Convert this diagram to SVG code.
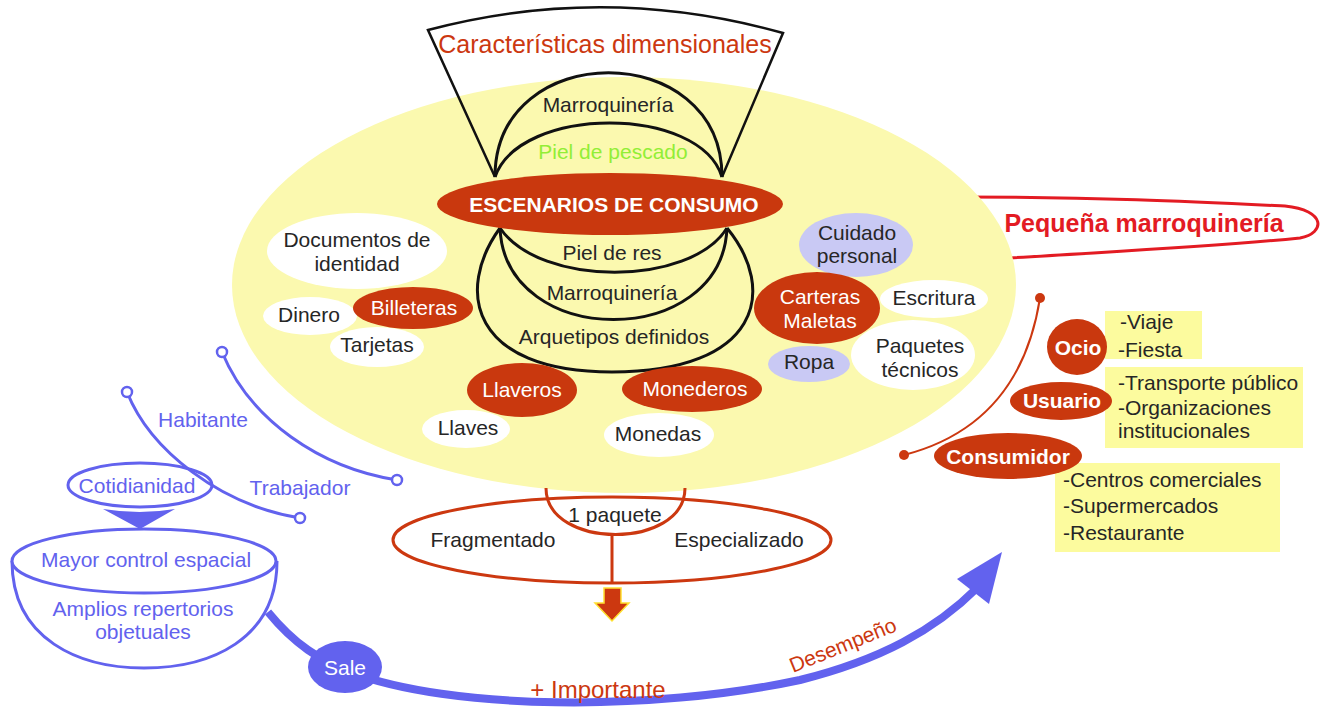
<svg xmlns="http://www.w3.org/2000/svg" width="1325" height="710" viewBox="0 0 1325 710">
<style>
text{font-family:"Liberation Sans",Arial,sans-serif;font-size:21px;text-anchor:middle;fill:#262626}
.w{fill:#fff}
.b{font-weight:bold}
.bl{fill:#6262EE}
.st{fill:#262626;text-anchor:start}
.or{fill:#CC3810}
.wn{fill:#fff}
.on{fill:#C9380E}
.ln{fill:#C9C9F4}
.box{fill:#FCFB9E}
.blk{fill:none;stroke:#111;stroke-width:3}
.bs{fill:none;stroke:#6262EE;stroke-width:3}
.dot{fill:#fff;stroke:#6262EE;stroke-width:2.5}
</style>
<rect width="1325" height="710" fill="#fff"/>
<g id="pequena">
<path d="M960,197 C1100,197 1200,202 1285,206 C1326,210 1326,233 1300,238 C1200,248 1100,252 1010,258" fill="none" stroke="#E31B23" stroke-width="3"/>
</g>
<g id="escenario-fondo">
<ellipse cx="624" cy="285" rx="392" ry="208" fill="#FBF9AF"/>
</g>
<g id="caracteristicas">
<path d="M495,177 L428,30 Q605,-17 783,33 L722,177" fill="none" stroke="#111" stroke-width="2.5"/>
<text x="605" y="53" style="font-size:25px" class="or">Características dimensionales</text>
</g>
<g id="arcos-superiores">
<path class="blk" d="M495,177 C495,38 722,38 722,177"/>
<path class="blk" d="M495,177 C520,105 700,105 722,177"/>
<text x="608" y="112">Marroquinería</text>
<text x="613" y="159" style="fill:#92EE36">Piel de pescado</text>
</g>
<g id="arcos-inferiores">
<path class="blk" d="M500,228 C540,287 690,287 727,228"/>
<path class="blk" d="M500,228 C505,350 722,350 727,228"/>
<path class="blk" d="M500,228 C455,290 470,372 612,372 C760,372 778,290 727,228"/>
<text x="612" y="260">Piel de res</text>
<text x="612" y="300">Marroquinería</text>
<text x="614" y="344">Arquetipos definidos</text>
</g>
<g id="escenarios">
<ellipse cx="610" cy="204" rx="173" ry="31" class="on"/>
<text x="614" y="212" class="w b">ESCENARIOS DE CONSUMO</text>
</g>
<g id="documentos"><ellipse cx="357" cy="251" rx="90" ry="38" class="wn"/><text x="357" y="247">Documentos de</text><text x="357" y="271">identidad</text></g>
<g id="dinero"><ellipse cx="310" cy="316" rx="47" ry="19" class="wn"/><text x="309" y="322">Dinero</text></g>
<g id="tarjetas"><ellipse cx="377" cy="347" rx="47" ry="20" class="wn"/><text x="377" y="352">Tarjetas</text></g>
<g id="billeteras"><ellipse cx="413" cy="308" rx="60" ry="21" class="on"/><text x="414" y="315" class="w">Billeteras</text></g>
<g id="llaves"><ellipse cx="466" cy="429" rx="44" ry="19" class="wn"/><text x="468" y="435">Llaves</text></g>
<g id="llaveros"><ellipse cx="522" cy="390" rx="55" ry="27" class="on"/><text x="522" y="397" class="w">Llaveros</text></g>
<g id="monedas"><ellipse cx="659" cy="435" rx="55" ry="22" class="wn"/><text x="658" y="441">Monedas</text></g>
<g id="monederos"><ellipse cx="692" cy="389" rx="70" ry="23" class="on"/><text x="695" y="396" class="w">Monederos</text></g>
<g id="cuidado"><ellipse cx="856" cy="245" rx="57" ry="32" class="ln"/><text x="857" y="240">Cuidado</text><text x="857" y="263">personal</text></g>
<g id="escritura"><ellipse cx="934" cy="299" rx="54" ry="19" class="wn"/><text x="934" y="305">Escritura</text></g>
<g id="paquetes"><ellipse cx="913" cy="355" rx="62" ry="35" class="wn"/><text x="920" y="353">Paquetes</text><text x="920" y="377">técnicos</text></g>
<g id="ropa"><ellipse cx="809" cy="364" rx="41" ry="18" class="ln"/><text x="809" y="369">Ropa</text></g>
<g id="carteras"><ellipse cx="817" cy="308" rx="63" ry="36" class="on"/><text x="820" y="304" class="w">Carteras</text><text x="820" y="328" class="w">Maletas</text></g>
<g id="pequena-texto"><text x="1144" y="232" class="b" style="font-size:25px;fill:#E31B23">Pequeña marroquinería</text></g>
<g id="conectores">
<path d="M1040,298 Q1020,425 904,455" fill="none" stroke="#CC3810" stroke-width="2"/>
<circle cx="1040" cy="298" r="5" fill="#CC3810"/>
<circle cx="904" cy="455" r="5" fill="#CC3810"/>
<path class="bs" d="M222,352 C250,420 320,468 397,480"/>
<circle class="dot" cx="222" cy="352" r="5"/>
<circle class="dot" cx="397" cy="480" r="5"/>
<path d="M268,612 C295,645 320,660 350,672 C450,710 650,712 800,680 C880,660 935,630 977,588" fill="none" stroke="#6262EE" stroke-width="8"/>
<polygon points="1002,552 957,579 989,604" fill="#6262EE"/>
<text x="598" y="698" class="or" style="font-size:24px">+ Importante</text>
<text x="0" y="0" class="or" style="text-anchor:start" transform="translate(793,673) rotate(-22)">Desempeño</text>
</g>
<g id="ocio">
<rect x="1105" y="311" width="97" height="48" class="box"/>
<text x="1120" y="329" class="st">-Viaje</text>
<text x="1118" y="357" class="st">-Fiesta</text>
<ellipse cx="1077" cy="347" rx="30" ry="28" class="on"/>
<text x="1078" y="355" class="w b">Ocio</text>
</g>
<g id="usuario">
<rect x="1105" y="367" width="198" height="81" class="box"/>
<text x="1118" y="390" class="st">-Transporte público</text>
<text x="1118" y="415" class="st">-Organizaciones</text>
<text x="1118" y="438" class="st">institucionales</text>
<ellipse cx="1061" cy="401" rx="51" ry="19" class="on"/>
<text x="1062" y="408" class="w b">Usuario</text>
</g>
<g id="consumidor">
<rect x="1055" y="463" width="225" height="89" class="box"/>
<text x="1063" y="487" class="st">-Centros comerciales</text>
<text x="1063" y="513" class="st">-Supermercados</text>
<text x="1063" y="540" class="st">-Restaurante</text>
<ellipse cx="1008" cy="456" rx="74" ry="23" class="on"/>
<text x="1008" y="464" class="w b">Consumidor</text>
</g>
<g id="paquete">
<ellipse cx="612" cy="540" rx="219" ry="43" fill="none" stroke="#CC3810" stroke-width="3"/>
<path d="M546,488 C546,550 685,550 685,488" fill="none" stroke="#CC3810" stroke-width="3"/>
<line x1="612" y1="534" x2="612" y2="583" stroke="#CC3810" stroke-width="3"/>
<text x="615" y="522">1 paquete</text>
<text x="493" y="547">Fragmentado</text>
<text x="739" y="547">Especializado</text>
<path d="M604,588 H621 V603 H629 L612,621 L595,603 H604 Z" fill="#CC3810" stroke="#FFE030" stroke-width="1.5"/>
</g>
<g id="habitante">
<text x="203" y="427" class="bl">Habitante</text>
<text x="300" y="495" class="bl">Trabajador</text>
</g>
<g id="cotidianidad">
<ellipse cx="140" cy="485" rx="72" ry="22" fill="#fff" stroke="#6262EE" stroke-width="3"/>
<text x="137" y="493" class="bl">Cotidianidad</text>
<path d="M103,509 Q140,515 175,509 L140,529 Z" fill="#6262EE"/>
</g>
<g id="conector-habitante">
<path class="bs" d="M127,392 C150,450 220,505 300,518"/>
<circle class="dot" cx="127" cy="392" r="5"/>
<circle class="dot" cx="300" cy="518" r="5"/>
</g>
<g id="control">
<path class="bs" d="M12,561 C12,640 80,668 144,668 C210,668 277,640 277,561"/>
<ellipse cx="144" cy="561" rx="132" ry="32" fill="#fff" stroke="#6262EE" stroke-width="3"/>
<text x="146" y="567" class="bl">Mayor control espacial</text>
<text x="143" y="616" class="bl">Amplios repertorios</text>
<text x="143" y="639" class="bl">objetuales</text>
</g>
<g id="sale">
<ellipse cx="345" cy="667" rx="37" ry="26" fill="#6262EE"/>
<text x="345" y="675" class="w">Sale</text>
</g>
</svg>
